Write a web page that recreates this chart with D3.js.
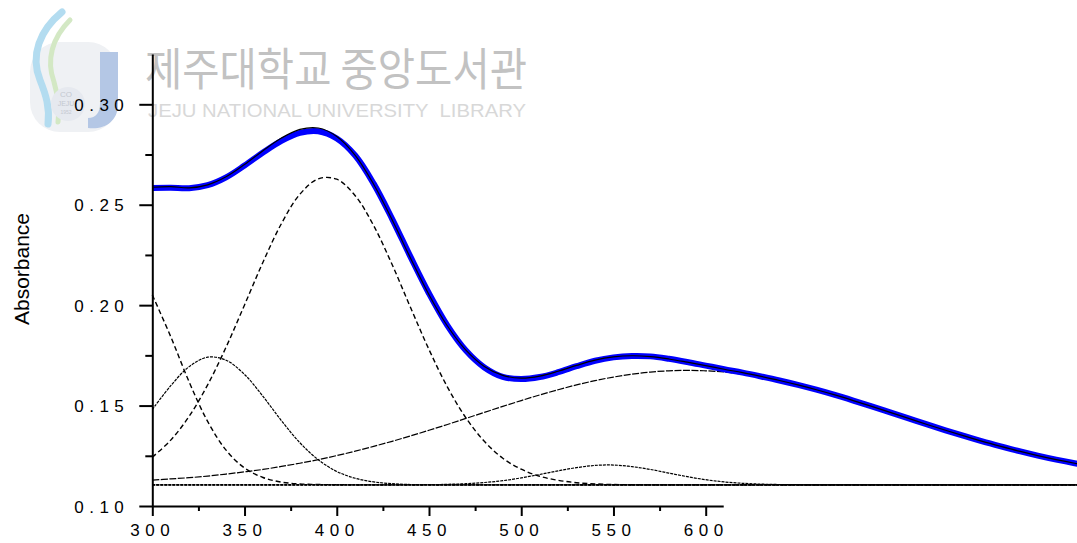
<!DOCTYPE html>
<html>
<head>
<meta charset="utf-8">
<script src="https://cdn.jsdelivr.net/npm/d3@7"></script>
<style>
  html, body { margin: 0; padding: 0; background: #fff; }
  svg { display: block; }
</style>
</head>
<body>
<svg id="chart" width="1077" height="543"></svg>
<script>
// Wavelength grid (nm)
const wavelength = [300,310,320,330,340,350,360,370,380,390,400,410,420,430,440,450,460,470,480,490,
  500,510,520,530,540,550,560,570,580,590,600,610,620,630,640,650,660,670,680,690,
  700,710,720,730,740,750,760,770,780,790,800,810];

// Measured absorbance spectrum
const measured = [0.2583,0.2584,0.2582,0.2597,0.2636,0.2695,0.2760,0.2818,0.2858,0.2866,
  0.2830,0.2745,0.2605,0.2430,0.2240,0.2058,0.1898,0.1774,0.1690,0.1643,
  0.1632,0.1642,0.1666,0.1696,0.1723,0.1740,0.1747,0.1745,0.1733,0.1717,
  0.1699,0.1681,0.1664,0.1645,0.1625,0.1603,0.1579,0.1553,0.1525,0.1496,
  0.1466,0.1436,0.1406,0.1377,0.1349,0.1322,0.1297,0.1273,0.1251,0.1231,
  0.1213,0.1197];

// Cumulative fit
const fitSum = [0.2587,0.2590,0.2584,0.2599,0.2639,0.2700,0.2769,0.2832,0.2875,0.2882,
  0.2840,0.2746,0.2602,0.2425,0.2234,0.2052,0.1896,0.1776,0.1695,0.1650,
  0.1637,0.1647,0.1671,0.1700,0.1726,0.1742,0.1748,0.1744,0.1732,0.1716,
  0.1699,0.1681,0.1664,0.1645,0.1625,0.1603,0.1579,0.1553,0.1525,0.1496,
  0.1466,0.1436,0.1406,0.1377,0.1349,0.1322,0.1297,0.1273,0.1251,0.1231,
  0.1213,0.1197];

// Common offset of the fitted bands
const baseline = 0.1105;

// Fitted component bands (offset included)
const bandA = [0.2051,0.1843,0.1617,0.1421,0.1278,0.1189,0.1142,0.1119,0.1110,0.1107,
  0.1106,0.1105,0.1105,0.1105,0.1105,0.1105,0.1105,0.1105,0.1105,0.1105,
  0.1105,0.1105,0.1105,0.1105,0.1105,0.1105,0.1105,0.1105,0.1105,0.1105,
  0.1105,0.1105,0.1105,0.1105,0.1105,0.1105,0.1105,0.1105,0.1105,0.1105,
  0.1105,0.1105,0.1105,0.1105,0.1105,0.1105,0.1105,0.1105,0.1105,0.1105,
  0.1105,0.1105];
const bandB = [0.1480,0.1599,0.1694,0.1741,0.1726,0.1655,0.1546,0.1425,0.1315,0.1230,
  0.1172,0.1138,0.1120,0.1111,0.1107,0.1106,0.1105,0.1105,0.1105,0.1105,
  0.1105,0.1105,0.1105,0.1105,0.1105,0.1105,0.1105,0.1105,0.1105,0.1105,
  0.1105,0.1105,0.1105,0.1105,0.1105,0.1105,0.1105,0.1105,0.1105,0.1105,
  0.1105,0.1105,0.1105,0.1105,0.1105,0.1105,0.1105,0.1105,0.1105,0.1105,
  0.1105,0.1105];
const bandC = [0.1243,0.1328,0.1447,0.1603,0.1791,0.2001,0.2214,0.2406,0.2552,0.2629,
  0.2627,0.2545,0.2396,0.2202,0.1988,0.1779,0.1592,0.1439,0.1322,0.1238,
  0.1183,0.1148,0.1128,0.1116,0.1110,0.1107,0.1106,0.1105,0.1105,0.1105,
  0.1105,0.1105,0.1105,0.1105,0.1105,0.1105,0.1105,0.1105,0.1105,0.1105,
  0.1105,0.1105,0.1105,0.1105,0.1105,0.1105,0.1105,0.1105,0.1105,0.1105,
  0.1105,0.1105];
const bandD = [0.1105,0.1105,0.1105,0.1105,0.1105,0.1105,0.1105,0.1105,0.1105,0.1105,
  0.1105,0.1105,0.1105,0.1105,0.1105,0.1106,0.1108,0.1111,0.1117,0.1126,
  0.1140,0.1157,0.1175,0.1191,0.1202,0.1204,0.1196,0.1182,0.1164,0.1146,
  0.1131,0.1120,0.1113,0.1109,0.1107,0.1106,0.1105,0.1105,0.1105,0.1105,
  0.1105,0.1105,0.1105,0.1105,0.1105,0.1105,0.1105,0.1105,0.1105,0.1105,
  0.1105,0.1105];
const bandE = [0.1129,0.1135,0.1141,0.1149,0.1159,0.1170,0.1182,0.1197,0.1213,0.1231,
  0.1251,0.1273,0.1297,0.1322,0.1349,0.1377,0.1406,0.1436,0.1466,0.1496,
  0.1525,0.1553,0.1579,0.1603,0.1624,0.1642,0.1656,0.1667,0.1673,0.1675,
  0.1673,0.1667,0.1656,0.1642,0.1624,0.1603,0.1579,0.1553,0.1525,0.1496,
  0.1466,0.1436,0.1406,0.1377,0.1349,0.1322,0.1297,0.1273,0.1251,0.1231,
  0.1213,0.1197];

// Axis ticks
const xMajorTicks = [300, 350, 400, 450, 500, 550, 600];
const xMinorTicks = [325, 375, 425, 475, 525, 575];
const yMajorTicks = [0.10, 0.15, 0.20, 0.25, 0.30];
const yMinorTicks = [0.125, 0.175, 0.225, 0.275];
const xAxisEnd = 609.5;
const yAxisTop = 0.325;

const svg = d3.select("#chart");
const W = 1077, H = 543;
svg.append("rect").attr("width", W).attr("height", H).attr("fill", "#fff");

const x = d3.scaleLinear().domain([300, 600]).range([152.3, 705.7]);
const y = d3.scaleLinear().domain([0.10, 0.30]).range([506, 104.3]);

// ---- library watermark (logo + name) ----
const wm = svg.append("g").attr("class", "watermark");
wm.append("rect").attr("x", 30).attr("y", 42).attr("width", 88).attr("height", 90)
  .attr("rx", 30).attr("fill", "#eff1f4");
wm.append("path").attr("d", "M62,12 C40,30 30,55 40,80 C46,95 50,108 48,124")
  .attr("fill", "none").attr("stroke", "#b3dcf0").attr("stroke-width", 7).attr("stroke-linecap", "round");
wm.append("path").attr("d", "M70,20 C52,38 46,60 54,82 C58,96 60,108 58,122")
  .attr("fill", "none").attr("stroke", "#d3e8c4").attr("stroke-width", 5).attr("stroke-linecap", "round");
wm.append("path").attr("d", "M100,52 L118,52 L118,104 C118,122 104,130 88,128 L88,118 C96,118 100,112 100,104 Z")
  .attr("fill", "#b4c7e5");
wm.append("circle").attr("cx", 68).attr("cy", 104).attr("r", 17).attr("fill", "#e6e9ef");
const logoFont = "Liberation Sans, Arial, sans-serif";
wm.append("text").attr("x", 66).attr("y", 97).attr("text-anchor", "middle")
  .attr("font-family", logoFont).attr("font-size", 8)
  .attr("fill", "#c4c8cf").text("CO");
wm.append("text").attr("x", 66).attr("y", 106).attr("text-anchor", "middle")
  .attr("font-family", logoFont).attr("font-size", 7)
  .attr("fill", "#c4c8cf").text("JEJU");
wm.append("text").attr("x", 66).attr("y", 114).attr("text-anchor", "middle")
  .attr("font-family", logoFont).attr("font-size", 5)
  .attr("fill", "#c4c8cf").text("1952");
wm.append("text").attr("x", 145).attr("y", 86)
  .attr("font-family", "Noto Sans CJK KR, sans-serif").attr("font-size", 45)
  .attr("textLength", 382).attr("lengthAdjust", "spacingAndGlyphs")
  .attr("fill", "#c2c2c2").text("제주대학교 중앙도서관");
wm.append("text").attr("x", 148).attr("y", 117)
  .attr("font-family", "Liberation Sans, Arial, sans-serif").attr("font-size", 19)
  .attr("textLength", 378).attr("lengthAdjust", "spacingAndGlyphs")
  .style("white-space", "pre")
  .attr("fill", "#d8d8d8").text("JEJU NATIONAL UNIVERSITY  LIBRARY");

// ---- curves ----
const pts = vals => wavelength.map((w, i) => [w, vals[i]]);
const line = d3.line().x(d => x(d[0])).y(d => y(d[1])).curve(d3.curveCatmullRom.alpha(0.5));

const plot = svg.append("g");

// offset line
plot.append("line")
  .attr("x1", x(300)).attr("x2", W)
  .attr("y1", y(baseline)).attr("y2", y(baseline))
  .attr("stroke", "#000").attr("stroke-width", 1.8).attr("stroke-dasharray", "3,1");

const bands = [
  { data: bandA, dash: "5,3", w: 1.4 },
  { data: bandB, dash: "3,1", w: 1.2 },
  { data: bandC, dash: "5,3", w: 1.4 },
  { data: bandD, dash: "3,1", w: 1.2 },
  { data: bandE, dash: "7,1.5", w: 1.2 }
];
plot.selectAll("path.band").data(bands).join("path")
  .attr("class", "band")
  .attr("d", d => line(pts(d.data)))
  .attr("fill", "none").attr("stroke", "#000")
  .attr("stroke-width", d => d.w).attr("stroke-dasharray", d => d.dash);

plot.append("path").attr("d", line(pts(measured)))
  .attr("fill", "none").attr("stroke", "#0000ff").attr("stroke-width", 6)
  .attr("stroke-linejoin", "round");

plot.append("path").attr("d", line(pts(fitSum)))
  .attr("fill", "none").attr("stroke", "#000").attr("stroke-width", 1.2);

// ---- axes ----
const font = "Liberation Sans, Arial, Helvetica, sans-serif";
const xAx = x.copy().domain([300, xAxisEnd]).range([x(300), x(xAxisEnd)]);
const yAx = y.copy().domain([0.10, yAxisTop]).range([y(0.10), y(yAxisTop)]);

const gx = svg.append("g").attr("transform", `translate(0,${y(0.10)})`);
gx.call(d3.axisBottom(xAx).tickValues(xMajorTicks).tickSize(10).tickSizeOuter(0).tickFormat(d3.format("d")));
gx.append("g").call(d3.axisBottom(xAx).tickValues(xMinorTicks).tickSize(5).tickSizeOuter(0).tickFormat(""))
  .select(".domain").remove();
gx.selectAll(".domain").attr("stroke", "#000").attr("stroke-width", 2);
gx.selectAll(".tick line").attr("stroke", "#000").attr("stroke-width", 2);
gx.selectAll(".tick text")
  .attr("y", 30).attr("dy", null)
  .attr("font-family", font).attr("font-size", 17).attr("fill", "#000")
  .style("letter-spacing", "5.5px");

const gy = svg.append("g").attr("transform", `translate(${x(300)},0)`);
gy.call(d3.axisLeft(yAx).tickValues(yMajorTicks).tickSize(13).tickSizeOuter(0).tickFormat(d3.format(".2f")));
gy.append("g").call(d3.axisLeft(yAx).tickValues(yMinorTicks).tickSize(7).tickSizeOuter(0).tickFormat(""))
  .select(".domain").remove();
gy.selectAll(".domain").attr("stroke", "#000").attr("stroke-width", 2);
gy.selectAll(".tick line").attr("stroke", "#000").attr("stroke-width", 2);
gy.selectAll(".tick text")
  .attr("x", -23).attr("dy", "0.36em")
  .attr("font-family", font).attr("font-size", 17).attr("fill", "#000")
  .style("letter-spacing", "5.5px");

svg.append("text")
  .attr("transform", "translate(22,269) rotate(-90)")
  .attr("text-anchor", "middle").attr("dy", "0.35em")
  .attr("font-family", font).attr("font-size", 21).attr("fill", "#000")
  .text("Absorbance");
</script>
</body>
</html>
